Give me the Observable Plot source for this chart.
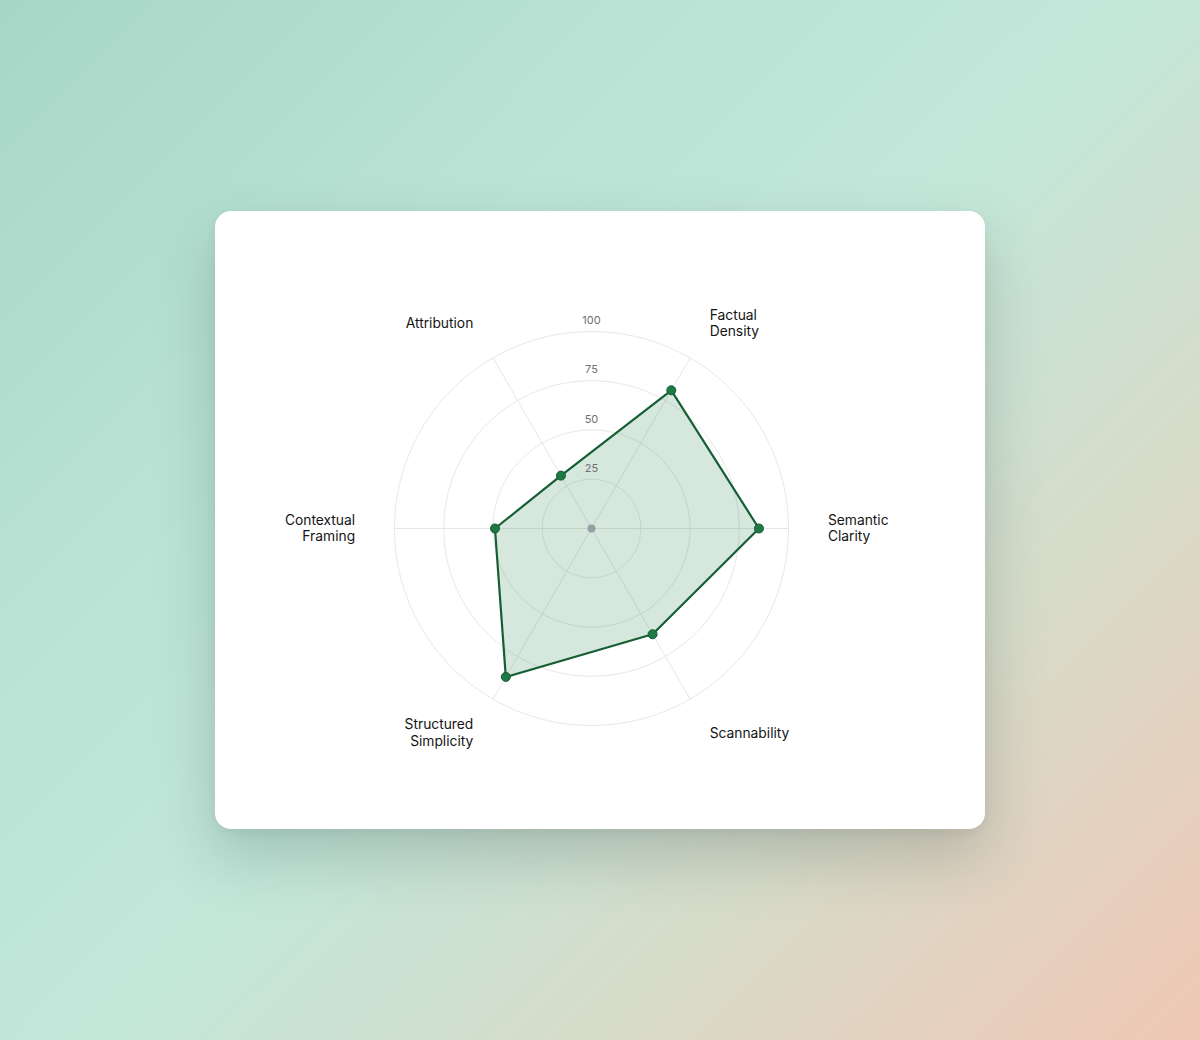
<!DOCTYPE html>
<html>
<head>
<meta charset="utf-8">
<script src="https://cdn.jsdelivr.net/npm/d3@7"></script>
<script src="https://cdn.jsdelivr.net/npm/@observablehq/plot@0.6"></script>
<style>
  html, body { margin: 0; padding: 0; }
  body {
    width: 1200px; height: 1040px; overflow: hidden; position: relative;
    background: linear-gradient(135deg, #a7d6c7 0%, #b9e3d5 30%, #c2e8da 50%, #d6dcca 72%, #f0c7b5 100%);
    font-family: Inter, "Noto Sans", sans-serif;
  }
  #card {
    position: absolute; left: 215px; top: 211px; width: 770px; height: 618px;
    background: #fff; border-radius: 16px;
    box-shadow: 0 28px 60px rgba(40, 60, 60, 0.22), 0 4px 12px rgba(0,0,0,0.05);
  }
  #card svg { display: block; }
</style>
</head>
<body>
<div id="card"></div>
<script>
const axes = ["Factual\nDensity", "Semantic\nClarity", "Scannability", "Structured\nSimplicity", "Contextual\nFraming", "Attribution"];
const values = [81, 85, 62, 87, 49, 31];
const angles = [30, 90, 150, 210, 270, 330];
const ticks = [25, 50, 75, 100];

const W = 770, H = 618, cx = 376, cy = 317, k = 1.97; // px per unit
const rad = d => d * Math.PI / 180;
const px = (v, a) => v * Math.sin(rad(a));
const py = (v, a) => v * Math.cos(rad(a));

const pts = values.map((v, i) => ({name: axes[i], x: px(v, angles[i]), y: py(v, angles[i])}));
const spokes = angles.map(a => ({x1: 0, y1: 0, x2: px(100, a), y2: py(100, a)}));
const rings = ticks.flatMap(t => d3.range(0, 361, 2).map(a => ({t, x: px(t, a), y: py(t, a)})));
const labels = axes.map((n, i) => ({n, a: angles[i], x: px(120, angles[i]), y: py(120, angles[i])}));
const labelStyle = {x: "x", y: "y", text: "n", lineAnchor: "middle", lineHeight: 1.2, dy: -1, fontSize: 13.8, fill: "#141414"};

const chart = Plot.plot({
  width: W, height: H, margin: 0,
  x: {domain: [-cx / k, (W - cx) / k], range: [0, W], axis: null},
  y: {domain: [-(H - cy) / k, cy / k], range: [H, 0], axis: null},
  style: {fontFamily: "Inter, 'Noto Sans', sans-serif", background: "transparent"},
  marks: [
    Plot.line(rings, {x: "x", y: "y", z: "t", stroke: "#e8e8e8", strokeWidth: 1}),
    Plot.link(spokes, {x1: "x1", y1: "y1", x2: "x2", y2: "y2", stroke: "#e6e6e6", strokeWidth: 1}),
    Plot.line(pts, {x: "x", y: "y", curve: "linear-closed", fill: "#1e7a45", fillOpacity: 0.18, stroke: "#165f35", strokeWidth: 2.2}),
    Plot.dot([{x: 0, y: 0}], {x: "x", y: "y", r: 4, fill: "#999ea6"}),
    Plot.dot(pts, {x: "x", y: "y", r: 4.5, fill: "#1e7a45", stroke: "#155a32", strokeWidth: 1}),
    Plot.text(ticks, {x: 0, y: d => d, text: d => String(d), dy: -11, fontSize: 11, fill: "#6f6f6f"}),
    Plot.text(labels.filter(d => d.a < 180), {...labelStyle, textAnchor: "start"}),
    Plot.text(labels.filter(d => d.a > 180), {...labelStyle, textAnchor: "end"})
  ]
});
document.getElementById("card").appendChild(chart);
</script>
</body>
</html>
